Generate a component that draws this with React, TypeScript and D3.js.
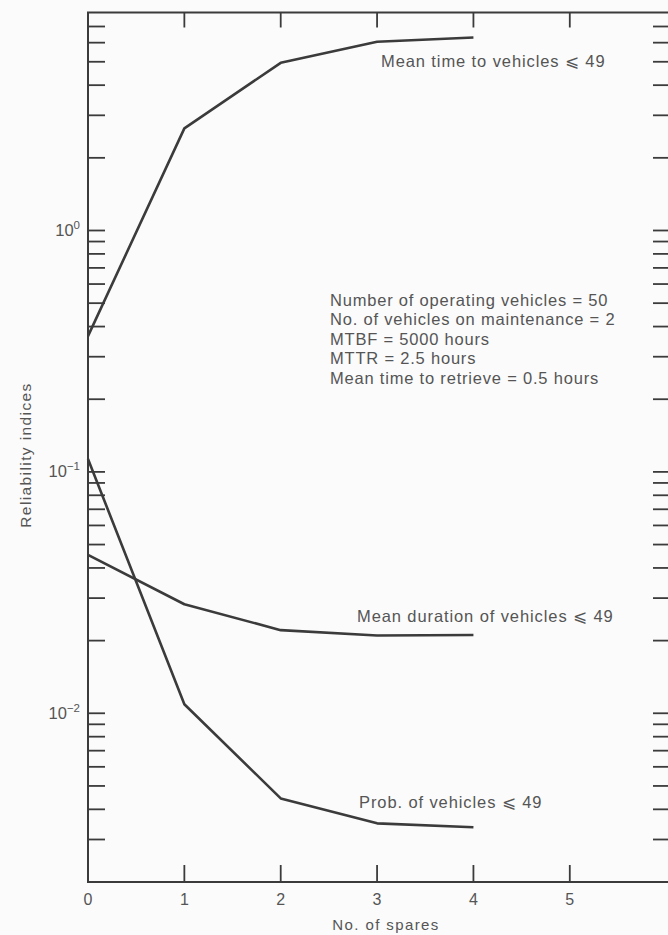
import React, { useEffect, useRef } from 'react';
import * as d3 from 'd3';

// values
const spares = [0, 1, 2, 3, 4];
const meanTime = [0.365, 2.65, 4.95, 6.05, 6.3];
const meanDuration = [0.0453, 0.0283, 0.0221, 0.021, 0.0211];
const probVehicles = [0.113, 0.0109, 0.00444, 0.0035, 0.00337];

const xTickValues = [0, 1, 2, 3, 4, 5];
const yLabelExps = ['0', '−1', '−2'];

const curveLabels = [
  'Mean time to vehicles ⩽ 49',
  'Mean duration of vehicles ⩽ 49',
  'Prob. of vehicles ⩽ 49',
];
const paramLines = [
  'Number of operating vehicles = 50',
  'No. of vehicles on maintenance = 2',
  'MTBF = 5000 hours',
  'MTTR = 2.5 hours',
  'Mean time to retrieve = 0.5 hours',
];

const W = 668;
const H = 935;
const INK = '#3b3b3b';
const TEXT = '#555';
const FONT = '"Liberation Sans", Arial, sans-serif';

const ReliabilityChart = () => {
  const svgRef = useRef(null);

  useEffect(() => {
    const svg = d3.select(svgRef.current);
    svg.selectAll('*').remove();

    const x = d3.scaleLinear().domain([0, 6.04]).range([88, 670]);
    const y = d3.scaleLog().domain([0.002, 8]).range([882, 12.5]);
    const [x0, x1] = x.range();
    const [yb, yt] = y.range();

    svg.append('rect').attr('width', W).attr('height', H).attr('fill', '#fbfbfb');

    const g = svg.append('g');

    // frame
    g.append('path')
      .attr('d', `M${x1},${yt}H${x0}V${yb}H${x1}`)
      .attr('fill', 'none')
      .attr('stroke', INK)
      .attr('stroke-width', 2);

    // log ticks on both sides
    const yTicks = y.ticks().filter(v => v > 0.0021 && v < 7.9);
    g.selectAll('.ytl')
      .data(yTicks)
      .enter().append('line')
      .attr('x1', x0).attr('x2', x0 + 17)
      .attr('y1', d => y(d)).attr('y2', d => y(d))
      .attr('stroke', INK).attr('stroke-width', 1.8);
    g.selectAll('.ytr')
      .data(yTicks)
      .enter().append('line')
      .attr('x1', x1 - 17).attr('x2', x1)
      .attr('y1', d => y(d)).attr('y2', d => y(d))
      .attr('stroke', INK).attr('stroke-width', 1.8);

    // x ticks, bottom and top
    const inner = xTickValues.filter(v => v > 0);
    g.selectAll('.xtb')
      .data(inner)
      .enter().append('line')
      .attr('x1', d => x(d)).attr('x2', d => x(d))
      .attr('y1', yb).attr('y2', yb - 17)
      .attr('stroke', INK).attr('stroke-width', 1.8);
    g.selectAll('.xtt')
      .data(inner)
      .enter().append('line')
      .attr('x1', d => x(d)).attr('x2', d => x(d))
      .attr('y1', yt).attr('y2', yt + 15)
      .attr('stroke', INK).attr('stroke-width', 1.8);

    g.selectAll('.xl')
      .data(xTickValues)
      .enter().append('text')
      .attr('x', d => x(d))
      .attr('y', yb + 23)
      .attr('text-anchor', 'middle')
      .attr('font-family', FONT)
      .attr('font-size', 16)
      .attr('fill', TEXT)
      .text(d => d);

    // decade labels 10^n
    const decade = g.selectAll('.yl')
      .data(yLabelExps)
      .enter().append('text')
      .attr('x', 80)
      .attr('y', (d, i) => y(Math.pow(10, -i)) + 5.5)
      .attr('text-anchor', 'end')
      .attr('font-family', FONT)
      .attr('fill', TEXT);
    decade.append('tspan').attr('font-size', 16.5).text('10');
    decade.append('tspan')
      .attr('font-size', 11.5)
      .attr('dy', -7)
      .text(d => d);

    // axis titles
    g.append('text')
      .attr('x', 386)
      .attr('y', 930)
      .attr('text-anchor', 'middle')
      .attr('font-family', FONT)
      .attr('font-size', 15)
      .attr('letter-spacing', 1.4)
      .attr('fill', TEXT)
      .text('No. of spares');
    g.append('text')
      .attr('transform', 'translate(31,455) rotate(-90)')
      .attr('text-anchor', 'middle')
      .attr('font-family', FONT)
      .attr('font-size', 15.5)
      .attr('letter-spacing', 1.4)
      .attr('fill', TEXT)
      .text('Reliability indices');

    // curves
    const line = d3.line<number>()
      .x((d, i) => x(spares[i]))
      .y(d => y(d));
    g.selectAll('.curve')
      .data([meanTime, meanDuration, probVehicles])
      .enter().append('path')
      .attr('d', d => line(d))
      .attr('fill', 'none')
      .attr('stroke', INK)
      .attr('stroke-width', 2.6)
      .attr('stroke-linejoin', 'round');

    // curve labels
    const labelPos = [[381, 67], [357, 621.5], [359, 808]];
    g.selectAll('.cl')
      .data(curveLabels)
      .enter().append('text')
      .attr('x', (d, i) => labelPos[i][0])
      .attr('y', (d, i) => labelPos[i][1])
      .attr('font-family', FONT)
      .attr('font-size', 16.5)
      .attr('letter-spacing', 0.9)
      .attr('fill', TEXT)
      .text(d => d);

    // parameter block
    g.selectAll('.pl')
      .data(paramLines)
      .enter().append('text')
      .attr('x', 330)
      .attr('y', (d, i) => 306 + i * 19.4)
      .attr('font-family', FONT)
      .attr('font-size', 16.5)
      .attr('letter-spacing', 0.8)
      .attr('fill', TEXT)
      .text(d => d);
  }, []);

  return (
    <svg
      ref={svgRef}
      width={W}
      height={H}
      style={{ position: 'absolute', left: 0, top: 0, display: 'block' }}
    />
  );
};

export default function App() {
  return <ReliabilityChart />;
}
